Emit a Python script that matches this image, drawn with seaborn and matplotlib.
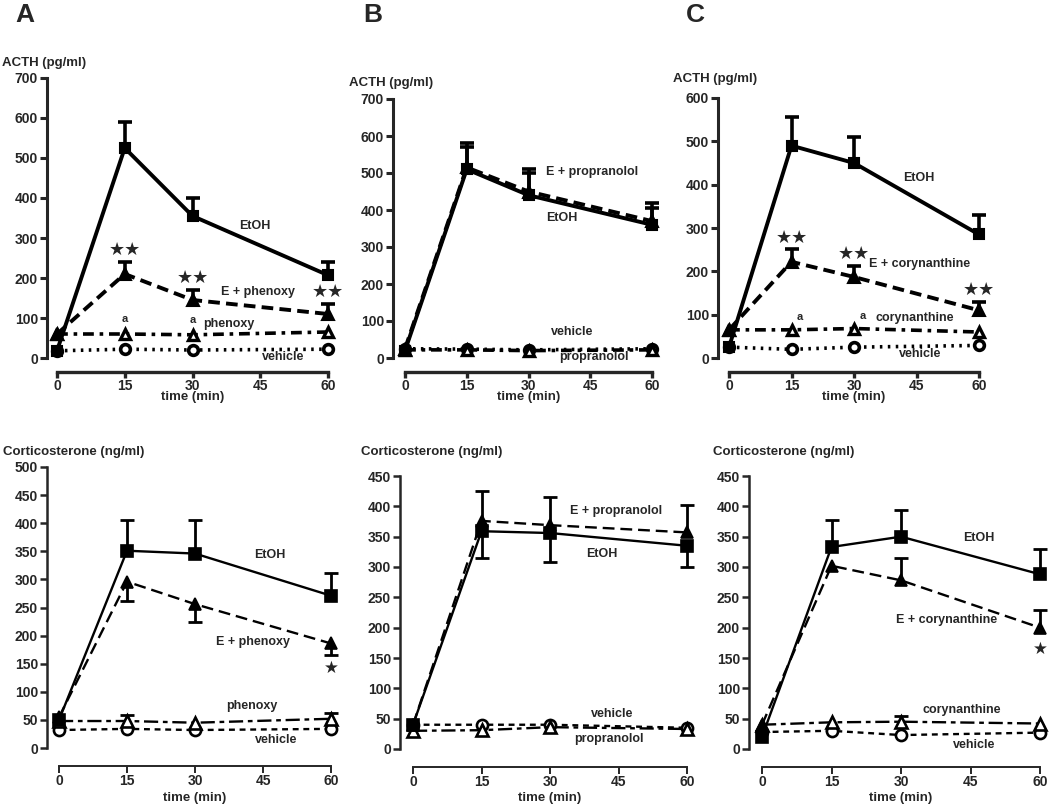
import numpy as np
import matplotlib
matplotlib.use('Agg')
import matplotlib.pyplot as plt
import seaborn as sns

#%%
# values (means and one-sided SEM)
time = [0, 15, 30, 60]
ticks_x = [0, 15, 30, 45, 60]

# ACTH (pg/ml)
acth_a_etoh = [18, 525, 355, 207]
acth_a_etoh_sem = [0, 65, 45, 33]
acth_a_ephen = [60, 210, 145, 110]
acth_a_ephen_sem = [0, 30, 25, 25]
acth_a_phen = [60, 60, 58, 65]
acth_a_veh = [18, 22, 20, 22]
acth_a_stars = ['', '★★', '★★', '★★']
acth_a_marks = ['', 'a', 'a', '']

acth_b_etoh = [20, 510, 440, 360]
acth_b_etoh_sem = [0, 60, 60, 45]
acth_b_eprop = [25, 515, 450, 370]
acth_b_eprop_sem = [0, 65, 60, 50]
acth_b_veh = [25, 24, 22, 25]
acth_b_prop = [22, 22, 20, 22]

acth_c_etoh = [25, 490, 450, 285]
acth_c_etoh_sem = [0, 67, 61, 46]
acth_c_ecory = [65, 222, 187, 110]
acth_c_ecory_sem = [0, 29, 26, 20]
acth_c_cory = [65, 65, 68, 60]
acth_c_veh = [25, 20, 25, 29]
acth_c_stars = ['', '★★', '★★', '★★']
acth_c_marks = ['', 'a', 'a', '']

# Corticosterone (ng/ml)
cort_a_etoh = [50, 351, 346, 271]
cort_a_etoh_sem = [0, 54, 59, 40]
cort_a_ephen = [55, 296, 256, 186]
cort_a_ephen_sem = [0, 34, 31, 21]
cort_a_phen = [48, 48, 45, 52]
cort_a_phen_sem = [0, 11, 0, 10]
cort_a_veh = [32, 34, 32, 34]
cort_a_stars = ['', '', '', '★']

cort_b_etoh = [40, 359, 356, 335]
cort_b_etoh_sem = [0, 44, 48, 35]
cort_b_eprop = [40, 376, 369, 357]
cort_b_eprop_sem = [0, 50, 46, 45]
cort_b_veh = [40, 40, 40, 35]
cort_b_prop = [30, 31, 36, 33]

cort_c_etoh = [20, 333, 350, 288]
cort_c_etoh_sem = [0, 45, 44, 41]
cort_c_ecory = [40, 302, 278, 200]
cort_c_ecory_sem = [0, 0, 37, 29]
cort_c_cory = [40, 44, 45, 42]
cort_c_cory_sem = [0, 0, 10, 0]
cort_c_veh = [28, 30, 23, 27]
cort_c_stars = ['', '', '', '★']

#%%
sns.set_style('ticks')
plt.rcParams['font.family'] = ['Liberation Sans', 'DejaVu Sans']
plt.rcParams['font.weight'] = 'bold'
plt.rcParams['axes.labelweight'] = 'bold'

W, H = 1050, 806
fig = plt.figure(figsize=(W / 100, H / 100), dpi=100)

STYLES = {
    'top': {
        'etoh': dict(ls='-', lw=2.8, marker='s', ms=7.5, mfc='black', mew=1.5, z=5),
        'edrug': dict(ls=(0, (3, 1.6)), lw=2.8, marker='^', ms=8.5, mfc='black', mew=1.5, z=4),
        'drug': dict(ls=(0, (3, 1.6, 1, 1.6)), lw=2.6, marker='^', ms=7.5, mfc='white', mew=2.4, z=3),
        'veh': dict(ls=(0, (0.7, 1.5)), lw=2.6, marker='o', ms=7, mfc='white', mew=2.6, z=2),
    },
    'bottom': {
        'etoh': dict(ls='-', lw=1.7, marker='s', ms=8, mfc='black', mew=1.2, z=5),
        'edrug': dict(ls=(0, (5, 2.5)), lw=1.7, marker='^', ms=9, mfc='black', mew=1.2, z=4),
        'drug': dict(ls=(0, (6, 2, 2, 2)), lw=1.7, marker='^', ms=9, mfc='white', mew=1.9, z=3),
        'veh': dict(ls=(0, (2.5, 2)), lw=1.7, marker='o', ms=8, mfc='white', mew=1.9, z=2),
    },
}


def make_ax(spine_x, x0, x60, y0, ytop, ymax, ystep, row):
    # place axes so that data 0..60 and 0..ymax land on the given pixels
    right = x60 + 9
    ax = fig.add_axes([spine_x / W, 1 - y0 / H, (right - spine_x) / W, (y0 - ytop) / H])
    per = (x60 - x0) / 60
    ax.set_xlim(-(x0 - spine_x) / per, 60 + 9 / per)
    ax.set_ylim(0, ymax)
    lw = 2.2 if row == 'top' else 1.8
    sns.despine(ax=ax)
    ax.spines['left'].set_linewidth(lw)
    ax.spines['left'].set_bounds(0, ymax)
    ax.spines['bottom'].set_linewidth(2.4 if row == 'top' else 1.4)
    ax.spines['bottom'].set_position(('outward', 10 if row == 'top' else 13))
    ax.spines['bottom'].set_bounds(0, 60)
    ax.set_xticks(ticks_x)
    ax.set_yticks(np.arange(0, ymax + 1, ystep))
    ax.tick_params(axis='y', direction='out', length=5, width=lw, labelsize=10, pad=1.5)
    ax.tick_params(axis='x', direction='out', length=4 if row == 'top' else 5,
                   width=2.4 if row == 'top' else 1.4, labelsize=10, pad=1)
    ax.patch.set_alpha(0)
    return ax


def draw(ax, y, kind, row, sem=None, up=True):
    st = STYLES[row][kind]
    sns.lineplot(x=time, y=y, ax=ax, color='black', linestyle=st['ls'], linewidth=st['lw'],
                 marker=st['marker'], markersize=st['ms'], markerfacecolor=st['mfc'],
                 markeredgecolor='black', markeredgewidth=st['mew'], zorder=st['z'], clip_on=False)
    if sem is not None:
        t = np.array(time, float)
        yy = np.array(y, float)
        s = np.array(sem, float)
        m = s > 0
        zero = np.zeros_like(s)
        lo, hi = (zero, s) if up else (s, zero)
        elw = 2.6 if row == 'top' else 2.0
        _, caps, _ = ax.errorbar(t[m], yy[m], yerr=[lo[m], hi[m]], fmt='none', ecolor='black',
                                 elinewidth=elw, capsize=5, capthick=elw,
                                 zorder=st['z'] - 0.5, clip_on=False)
        caps[0 if up else 1].set_visible(False)


def stars(ax, y, sem, labels, up=True, off=9, size=13):
    for t, v, s, lab in zip(time, y, sem, labels):
        if not lab:
            continue
        base = v + s if up else v - s
        ax.annotate(lab, (t, base), xytext=(0, off if up else -off), textcoords='offset points',
                    ha='center', va='center', fontsize=size,
                    family=['DejaVu Sans'])


def marks(ax, y, labels, dx, dy):
    for t, v, lab in zip(time, y, labels):
        if lab:
            ax.annotate(lab, (t, v), xytext=(dx, dy), textcoords='offset points',
                        ha='center', va='center', fontsize=8)


def label(ax, x, y, s):
    ax.text(x, y, s, ha='center', va='center', fontsize=9, fontweight='bold')


def titles(ax, ylab, ylab_px, xlab_py):
    # y-axis title sits above the axis, x title below the ticks
    fig.text(ylab_px[0] / W, 1 - ylab_px[1] / H, ylab, ha='left', va='center', fontsize=9.5,
             fontweight='bold')
    xc = ax.transData.transform((30, 0))[0] / (W)
    fig.text(xc, 1 - xlab_py / H, 'time (min)', ha='center', va='center', fontsize=9.5,
             fontweight='bold')


#%%
# ---- ACTH row ----
ax = make_ax(47, 57, 328, 358, 78, 700, 100, 'top')
draw(ax, acth_a_veh, 'veh', 'top')
draw(ax, acth_a_phen, 'drug', 'top')
draw(ax, acth_a_ephen, 'edrug', 'top', acth_a_ephen_sem)
draw(ax, acth_a_etoh, 'etoh', 'top', acth_a_etoh_sem)
stars(ax, acth_a_ephen, acth_a_ephen_sem, acth_a_stars)
marks(ax, acth_a_phen, acth_a_marks, 0, 11)
label(ax, 43.8, 331, 'EtOH')
label(ax, 44.5, 164, 'E + phenoxy')
label(ax, 38, 86, 'phenoxy')
label(ax, 50, 3, 'vehicle')
titles(ax, 'ACTH (pg/ml)', (2, 63), 397)

ax = make_ax(393, 405, 652, 358, 99, 700, 100, 'top')
draw(ax, acth_b_veh, 'veh', 'top')
draw(ax, acth_b_prop, 'drug', 'top')
draw(ax, acth_b_eprop, 'edrug', 'top', acth_b_eprop_sem)
draw(ax, acth_b_etoh, 'etoh', 'top', acth_b_etoh_sem)
label(ax, 45.4, 504, 'E + propranolol')
label(ax, 38.1, 378, 'EtOH')
label(ax, 40.5, 69, 'vehicle')
label(ax, 46, 3, 'propranolol')
titles(ax, 'ACTH (pg/ml)', (349, 83), 397)

ax = make_ax(718, 729, 979, 358, 98, 600, 100, 'top')
draw(ax, acth_c_veh, 'veh', 'top')
draw(ax, acth_c_cory, 'drug', 'top')
draw(ax, acth_c_ecory, 'edrug', 'top', acth_c_ecory_sem)
draw(ax, acth_c_etoh, 'etoh', 'top', acth_c_etoh_sem)
stars(ax, acth_c_ecory, acth_c_ecory_sem, acth_c_stars, off=8.5)
marks(ax, acth_c_cory, acth_c_marks, 6, 9)
label(ax, 45.5, 415, 'EtOH')
label(ax, 45.8, 216, 'E + corynanthine')
label(ax, 44.7, 93, 'corynanthine')
label(ax, 45.8, 10, 'vehicle')
titles(ax, 'ACTH (pg/ml)', (673, 79), 397)

# ---- Corticosterone row ----
ax = make_ax(47, 59, 331, 748, 467, 500, 50, 'bottom')
draw(ax, cort_a_veh, 'veh', 'bottom')
draw(ax, cort_a_phen, 'drug', 'bottom', cort_a_phen_sem)
draw(ax, cort_a_ephen, 'edrug', 'bottom', cort_a_ephen_sem, up=False)
draw(ax, cort_a_etoh, 'etoh', 'bottom', cort_a_etoh_sem)
stars(ax, cort_a_ephen, cort_a_ephen_sem, cort_a_stars, up=False, off=9, size=12)
label(ax, 46.6, 344, 'EtOH')
label(ax, 42.9, 188, 'E + phenoxy')
label(ax, 42.6, 74, 'phenoxy')
label(ax, 47.9, 15, 'vehicle')
titles(ax, 'Corticosterone (ng/ml)', (3, 452), 798)

ax = make_ax(400, 413, 687, 749, 476, 450, 50, 'bottom')
draw(ax, cort_b_veh, 'veh', 'bottom')
draw(ax, cort_b_prop, 'drug', 'bottom')
draw(ax, cort_b_eprop, 'edrug', 'bottom', cort_b_eprop_sem)
draw(ax, cort_b_etoh, 'etoh', 'bottom', cort_b_etoh_sem, up=False)
label(ax, 44.5, 392, 'E + propranolol')
label(ax, 41.3, 322, 'EtOH')
label(ax, 43.7, 57, 'vehicle')
label(ax, 42.8, 17, 'propranolol')
titles(ax, 'Corticosterone (ng/ml)', (361, 452), 798)

ax = make_ax(749, 762, 1040, 749, 476, 450, 50, 'bottom')
draw(ax, cort_c_veh, 'veh', 'bottom')
draw(ax, cort_c_cory, 'drug', 'bottom', cort_c_cory_sem)
draw(ax, cort_c_ecory, 'edrug', 'bottom', cort_c_ecory_sem)
draw(ax, cort_c_etoh, 'etoh', 'bottom', cort_c_etoh_sem)
# the star sits under the mean here (no lower error bar)
stars(ax, cort_c_ecory, [0, 0, 0, 0], cort_c_stars, up=False, off=15, size=12)
label(ax, 46.9, 348, 'EtOH')
label(ax, 39.9, 212, 'E + corynanthine')
label(ax, 43.1, 64, 'corynanthine')
label(ax, 45.7, 7, 'vehicle')
titles(ax, 'Corticosterone (ng/ml)', (713, 452), 798)

# panel letters
for s, px in zip(['A', 'B', 'C'], [15, 363, 686]):
    fig.text(px / W, 1 - 22 / H, s, fontsize=19, fontweight='bold', ha='left', va='baseline')

fig.savefig('out.png', dpi=100)
